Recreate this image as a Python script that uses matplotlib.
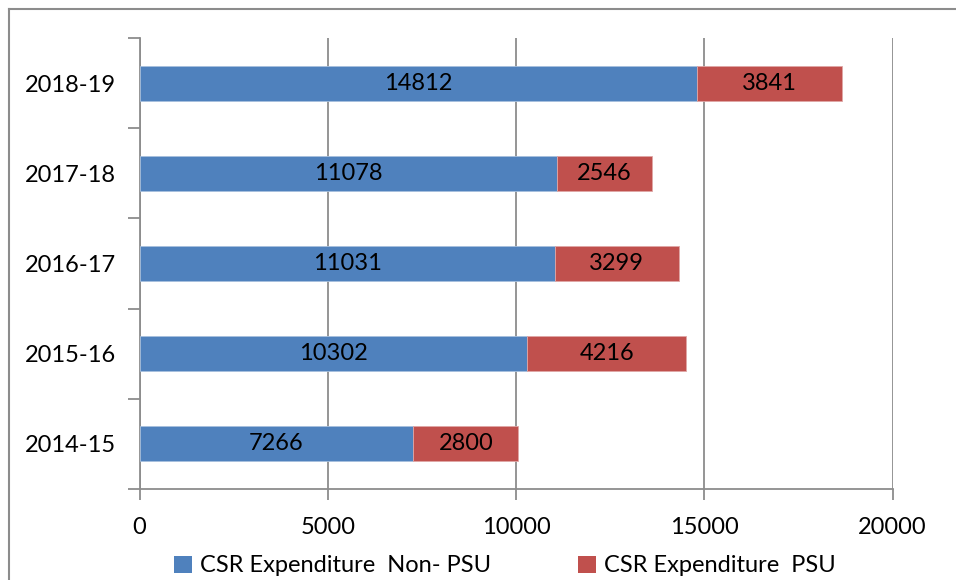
import matplotlib
matplotlib.use("Agg")
import matplotlib.pyplot as plt
from matplotlib.patches import Patch
from matplotlib.lines import Line2D
import numpy as np

years = ["2014-15", "2015-16", "2016-17", "2017-18", "2018-19"]
non_psu = [7266, 10302, 11031, 11078, 14812]
psu = [2800, 4216, 3299, 2546, 3841]
series_names = ["CSR Expenditure  Non- PSU", "CSR Expenditure  PSU"]
x_ticks = [0, 5000, 10000, 15000, 20000]

BLUE = "#4F81BD"
RED = "#C0504D"
GRID = "#8C8C8C"
FONT = "Lato"
FS = 17

plt.rcParams["font.family"] = [FONT, "DejaVu Sans"]

fig = plt.figure(figsize=(9.56, 5.80), dpi=100)
ax = fig.add_axes([139.5 / 956, 1 - 489 / 580, (892.5 - 139.5) / 956, (489 - 38) / 580])

y = np.arange(len(years))
h = 0.39
b1 = ax.barh(y, non_psu, height=h, color=BLUE, edgecolor="#A7C0DE", linewidth=0.6, zorder=3)
b2 = ax.barh(y, psu, left=non_psu, height=h, color=RED, edgecolor="#DFA6A5", linewidth=0.6, zorder=3)

for bars, vals in ((b1, non_psu), (b2, psu)):
    for rect, v in zip(bars, vals):
        cx = rect.get_x() + rect.get_width() / 2
        cy = rect.get_y() + rect.get_height() / 2
        ax.text(cx, cy, f"{v}", ha="center", va="center", fontsize=FS, color="black", zorder=4)

ax.set_xlim(0, 20000)
ax.set_ylim(-0.5, len(years) - 0.5)

ax.set_xticks(x_ticks)
ax.set_xticklabels([str(t) for t in x_ticks])
ax.tick_params(axis="x", length=8, width=1.3, color=GRID, labelsize=FS, pad=12)

ax.set_yticks(np.arange(len(years) + 1) - 0.5)
ax.set_yticklabels([])
ax.set_yticks(y, minor=True)
ax.set_yticklabels(years, minor=True)
ax.tick_params(axis="y", which="major", length=9, width=1.3, color=GRID)
ax.tick_params(axis="y", which="minor", length=0, labelsize=FS, pad=17)

ax.grid(axis="x", color=GRID, linewidth=1.3, zorder=0)
ax.set_axisbelow(True)
for side in ("top", "right"):
    ax.spines[side].set_visible(False)
for side in ("left", "bottom"):
    ax.spines[side].set_color(GRID)
    ax.spines[side].set_linewidth(1.3)

handles = [Patch(facecolor=BLUE, edgecolor="none"), Patch(facecolor=RED, edgecolor="none")]
fig.legend(handles, series_names, loc="center", bbox_to_anchor=(505 / 956, 1 - 566 / 580),
           ncol=2, frameon=False, fontsize=FS, handlelength=0.75, handleheight=0.75,
           handletextpad=0.35, columnspacing=3.7, borderaxespad=0)

# outer chart frame (top and left edges)
fig.add_artist(Line2D([8.5 / 956, 1], [1 - 9 / 580, 1 - 9 / 580], transform=fig.transFigure,
                      color=GRID, linewidth=1.5))
fig.add_artist(Line2D([8.5 / 956, 8.5 / 956], [0, 1 - 9 / 580], transform=fig.transFigure,
                      color=GRID, linewidth=1.5))

fig.savefig("out.png", dpi=100)
